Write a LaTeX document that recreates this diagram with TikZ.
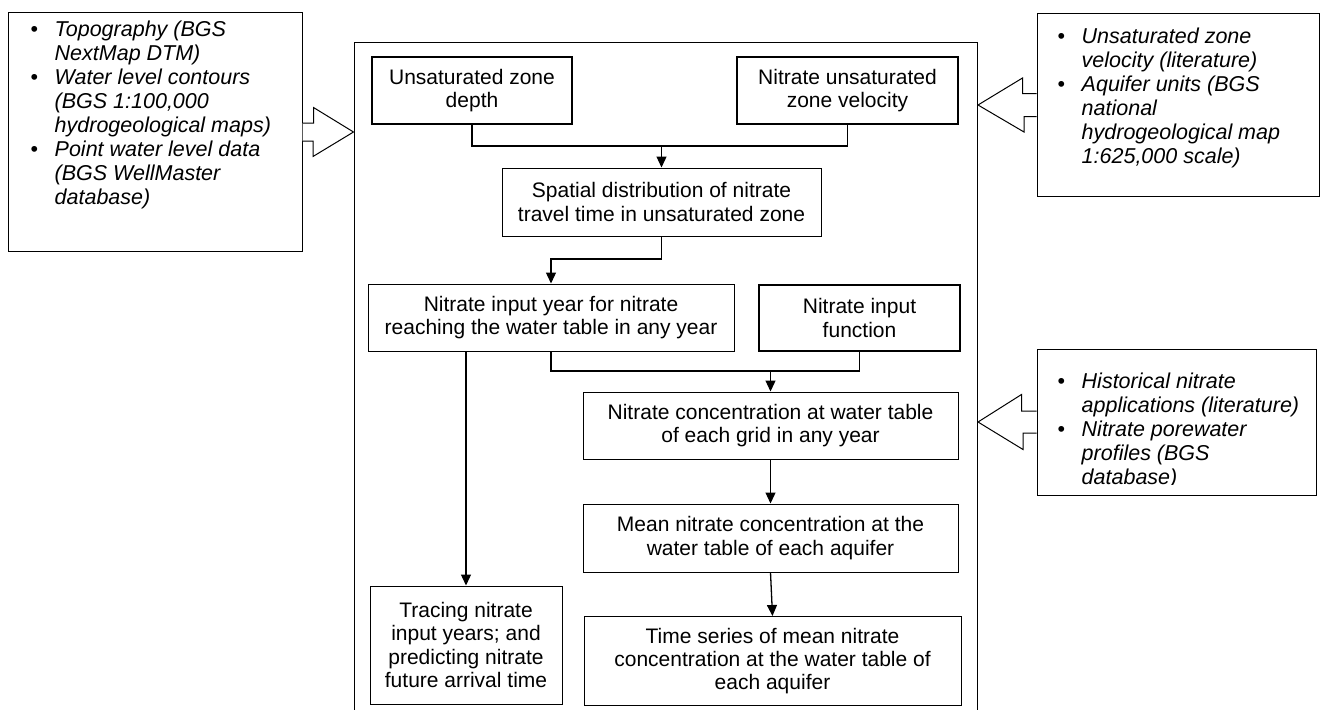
\documentclass[tikz,border=0pt]{standalone}
\usepackage{fontspec}
\setmainfont{Liberation Sans}
\usetikzlibrary{arrows.meta,calc}

\newcommand{\bul}{\makebox[24pt][l]{\upshape\textbullet}}
\newcommand{\ind}{\hspace*{24pt}}

\begin{document}
\begin{tikzpicture}[x=1pt,y=-1pt,
  box/.style={draw,line width=1pt,align=center,inner sep=0pt,font=\fontsize{21}{23.3}\selectfont},
  thickbox/.style={box,line width=2.8pt},
  srcbox/.style={draw,line width=1pt},
  srclist/.style={anchor=north west,align=left,inner sep=0pt,font=\fontsize{21.5}{24}\selectfont\itshape},
  feed/.style={line width=1pt,fill=white},
  link/.style={line width=1.3pt},
  arr/.style={link,-{Triangle[width=10pt,length=11pt]}}]
\clip (0,0) rectangle (1321,709);
\node[draw,line width=1pt,anchor=north west,minimum width=623.5,minimum height=690,inner sep=0pt] (frame) at (353.5,42) {};

\node[srcbox,minimum width=294,minimum height=238] (src1) at (155,132) {};
\node[srclist] at ($(src1.north west)+(23,8)$) {\bul Topography (BGS\\ \ind NextMap DTM)\\ \bul Water level contours\\ \ind (BGS 1:100,000\\ \ind hydrogeological maps)\\ \bul Point water level data\\ \ind (BGS WellMaster\\ \ind database)};
\node[srcbox,minimum width=282,minimum height=182] (src2) at (1178,105) {};
\node[srclist] at ($(src2.north west)+(21,14)$) {\bul Unsaturated zone\\ \ind velocity (literature)\\ \bul Aquifer units (BGS\\ \ind national\\ \ind hydrogeological map\\ \ind 1:625,000 scale)};
\node[srcbox,minimum width=279,minimum height=146] (src3) at (1176.5,422) {};
\begin{scope}
\clip (src3.north west) rectangle ($(src3.south east)+(0,-11)$);
\node[srclist] at ($(src3.north west)+(21,24)$) {\bul Historical nitrate\\ \ind applications (literature)\\ \bul Nitrate porewater\\ \ind profiles (BGS\\ \ind database)};
\end{scope}

\draw[feed] ($(src1.east)+(0,-9)$) -- ++(11,0) -- ++(0,-15.5) -- (frame.west |- src1.east) -- ++(-40.5,24.5) -- ++(0,-15.5) -- ($(src1.east)+(0,9)$);
\draw[feed] ($(src2.west)+(0,-11.5)$) -- ++(-14,0) -- ++(0,-15.5) -- (frame.east |- src2.west) -- ++(46,27) -- ++(0,-15.5) -- ($(src2.west)+(0,11.5)$);
\draw[feed] ($(src3.west)+(0,-11)$) -- ++(-15,0) -- ++(0,-16.5) -- (frame.east |- src3.west) -- ++(45,27.5) -- ++(0,-16.5) -- ($(src3.west)+(0,11)$);

\node[thickbox,minimum width=200,minimum height=67] (depth) at (472,90.5) {Unsaturated zone\\depth};
\node[thickbox,minimum width=221,minimum height=67] (velo) at (847.5,90.5) {Nitrate unsaturated\\zone velocity};
\node[box,minimum width=319,minimum height=68] (travel) at (661.5,202) {Spatial distribution of nitrate\\travel time in unsaturated zone};
\node[box,minimum width=366,minimum height=67] (year) at (551,317.5) {Nitrate input year for nitrate\\reaching the water table in any year};
\node[thickbox,minimum width=201,minimum height=66] (func) at (859.5,318) {Nitrate input\\function};
\node[box,minimum width=375,minimum height=67] (grid) at (770.5,425.5) {Nitrate concentration at water table\\of each grid in any year};
\node[box,minimum width=375,minimum height=68] (mean) at (770.5,538) {Mean nitrate concentration at the\\water table of each aquifer};
\node[box,minimum width=377,minimum height=89] (series) at (772.5,661) {Time series of mean nitrate\\concentration at the water table of\\each aquifer};
\node[box,minimum width=192,minimum height=118] (trace) at (466,645) {Tracing nitrate\\input years; and\\predicting nitrate\\future arrival time};

\coordinate (j1) at (661.5,146);
\coordinate (j2) at (551,259);
\coordinate (j3) at (770.5,371);
\draw[link] (depth.south) |- (j1) -| (velo.south);
\draw[arr] (j1) -- (travel.north);
\draw[arr] (travel.south) |- (j2) -- (year.north);
\draw[link] (year.south) |- (j3) -| (func.south);
\draw[arr] (j3) -- (grid.north);
\draw[arr] (grid.south) -- (mean.north);
\draw[arr] (mean.south) -- (series.north);
\draw[arr] (year.south -| trace.north) -- (trace.north);
\end{tikzpicture}
\end{document}
